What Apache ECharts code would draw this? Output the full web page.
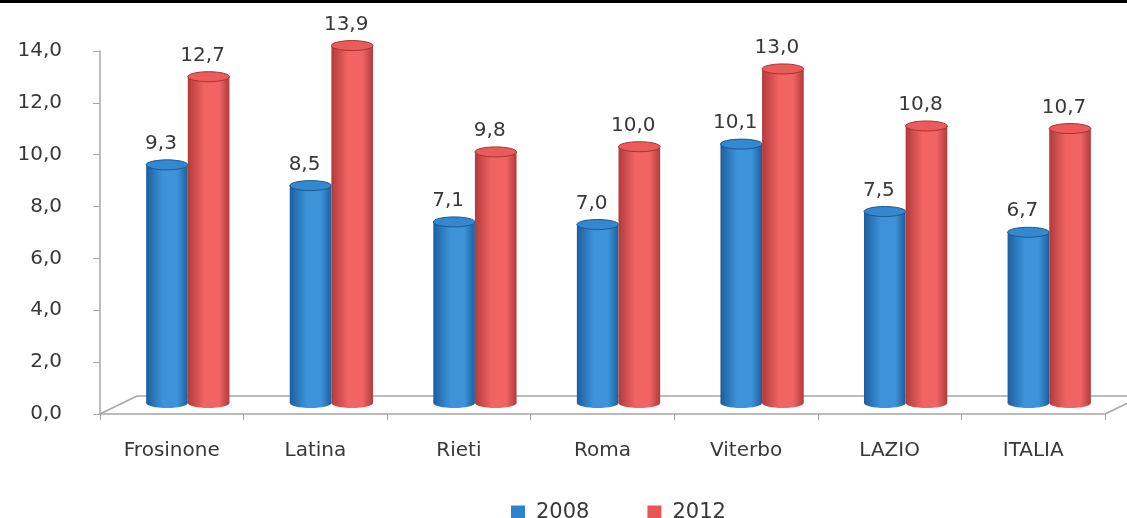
<!DOCTYPE html>
<html>
<head>
<meta charset="utf-8">
<script src="https://cdn.jsdelivr.net/npm/echarts@6/dist/echarts.min.js"></script>
<style>
  html, body { margin: 0; padding: 0; background: #fff; }
  #c1 { width: 1127px; height: 518px; }
</style>
</head>
<body>
<div id="c1"></div>
<script>
var categories = ["Frosinone", "Latina", "Rieti", "Roma", "Viterbo", "LAZIO", "ITALIA"];
var years = ["2008", "2012"];
var values2008 = [9.3, 8.5, 7.1, 7.0, 10.1, 7.5, 6.7];
var values2012 = [12.7, 13.9, 9.8, 10.0, 13.0, 10.8, 10.7];

var depthX = 37, depthY = 18; // finta prospettiva 3D del pavimento
var fontFam = "DejaVu Sans";
var txtColor = "#383838";

var chartDom = document.getElementById("c1");
var myChart = echarts.init(chartDom);

function fmt(v) {
  return Number(v).toFixed(1).replace(".", ",");
}

function toData(arr) {
  return arr.map(function (v, i) {
    return [i, v];
  });
}

// cilindro disegnato a mano: base ellittica, corpo con gradiente, tappo sopra
function cylinder(edge, light, topFill, topLine) {
  return function (params, api) {
    var i = api.value(0), v = api.value(1);
    var p = api.coord([i, v]);
    var base = api.coord([i, 0]);
    var bw = api.size([1, 0])[0];
    var w = bw * 0.29;
    var ry = 5;
    var side = params.seriesIndex === 1 ? -1 : 1;
    var cx = p[0] + 16 + (side * w) / 2;
    var yTop = p[1] - 8;
    var yBase = base[1] - 11;
    var grad = new echarts.graphic.LinearGradient(0, 0, 1, 0, [
      { offset: 0, color: edge },
      { offset: 0.4, color: light },
      { offset: 0.75, color: light },
      { offset: 1, color: edge },
    ]);
    return {
      type: "group",
      children: [
        {
          type: "ellipse",
          shape: { cx: cx, cy: yBase, rx: w / 2, ry: ry },
          style: { fill: grad },
        },
        {
          type: "rect",
          shape: { x: cx - w / 2, y: yTop, width: w, height: yBase - yTop },
          style: { fill: grad },
        },
        {
          type: "ellipse",
          shape: { cx: cx, cy: yTop, rx: w / 2, ry: ry },
          style: { fill: topFill, stroke: topLine, lineWidth: 1 },
        },
        {
          type: "text",
          x: cx - 6,
          y: yTop - ry - 6,
          style: {
            text: fmt(v),
            align: "center",
            verticalAlign: "bottom",
            fill: txtColor,
            fontSize: 20,
            fontFamily: fontFam,
          },
        },
      ],
    };
  };
}

function floor(params, api) {
  var n = categories.length;
  var bw = api.size([1, 0])[0];
  var l = api.coord([0, 0]);
  var r = api.coord([n - 1, 0]);
  var x0 = l[0] - bw / 2, x1 = r[0] + bw / 2, y0 = l[1];
  return {
    type: "polyline",
    silent: true,
    shape: {
      points: [
        [x0, y0],
        [x0 + depthX, y0 - depthY],
        [x1 + depthX, y0 - depthY],
        [x1, y0],
      ],
    },
    style: { stroke: "#a6a6a6", lineWidth: 1.5, fill: null },
  };
}

var option = {
  animation: false,
  grid: { left: 100, right: 22, top: 51, bottom: 104 },
  graphic: [
    {
      type: "rect",
      left: 0,
      top: 0,
      shape: { width: 1127, height: 3 },
      style: { fill: "#000" },
    },
  ],
  legend: {
    data: years,
    left: 506,
    top: 497,
    icon: "rect",
    itemWidth: 14,
    itemHeight: 14,
    itemGap: 58,
    textStyle: {
      color: txtColor,
      fontSize: 21,
      fontFamily: fontFam,
      padding: [0, 0, 0, 6],
    },
  },
  xAxis: {
    type: "category",
    data: categories,
    axisLine: { lineStyle: { color: "#a6a6a6", width: 1.5 } },
    axisTick: { show: true, length: 6, lineStyle: { color: "#a6a6a6" } },
    axisLabel: {
      color: txtColor,
      fontSize: 20,
      fontFamily: fontFam,
      margin: 27,
    },
  },
  yAxis: {
    type: "value",
    min: 0,
    max: 14,
    interval: 2,
    axisLine: { show: true, lineStyle: { color: "#a6a6a6", width: 1.5 } },
    axisTick: { show: true, length: 7, lineStyle: { color: "#a6a6a6" } },
    splitLine: { show: false },
    axisLabel: {
      color: txtColor,
      fontSize: 20,
      fontFamily: fontFam,
      margin: 38,
      formatter: fmt,
    },
  },
  series: [
    {
      name: "floor",
      type: "custom",
      renderItem: floor,
      data: [[0, 0]],
      z: 1,
      silent: true,
    },
    {
      name: "2008",
      type: "custom",
      renderItem: cylinder("#1d5e9e", "#3c93d8", "#3488cf", "#1f5790"),
      encode: { x: 0, y: 1 },
      itemStyle: { color: "#2f82cc" },
      data: toData(values2008),
      z: 2,
    },
    {
      name: "2012",
      type: "custom",
      renderItem: cylinder("#b33a3a", "#f06464", "#ea5b5b", "#a83232"),
      encode: { x: 0, y: 1 },
      itemStyle: { color: "#e85555" },
      data: toData(values2012),
      z: 3,
    },
  ],
};

option && myChart.setOption(option, true);
</script>
</body>
</html>
